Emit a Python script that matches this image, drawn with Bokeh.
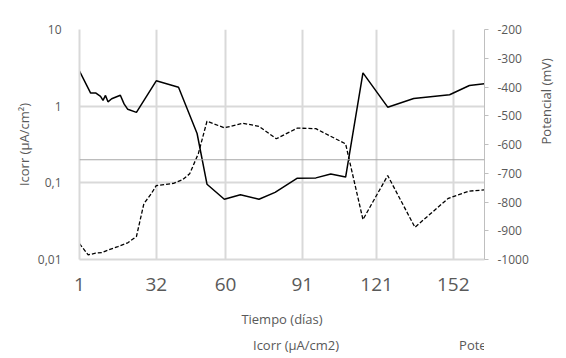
import math
from bokeh.plotting import figure
from bokeh.layouts import column
from bokeh.models import (Range1d, LinearAxis, LinearScale, FixedTicker,
                          CustomJSTickFormatter, Legend, LegendItem, Span,
                          ColumnDataSource)
from bokeh.embed import file_html
from bokeh.resources import INLINE

# Icorr series (solid, left log axis)
days_icorr = [1, 5.5, 7.5, 9.5, 10.5, 11.5, 12.5, 14, 17.5, 19, 20.5, 24, 32, 41, 48.5,
              52.5, 59.5, 66, 73.5, 80, 89, 96.5, 102.5, 108.5, 115.5, 125.5, 136,
              150.5, 158.5, 164.5]
icorr = [2.86, 1.48, 1.49, 1.34, 1.19, 1.38, 1.14, 1.25, 1.39, 1.07, 0.91, 0.83, 2.14,
         1.77, 0.44, 0.096, 0.061, 0.070, 0.061, 0.075, 0.115, 0.116, 0.13, 0.119,
         2.72, 0.97, 1.26, 1.41, 1.86, 1.96]

# Potencial series (dashed, right axis)
days_pot = [1, 4.5, 7.5, 10, 12, 16.5, 20.5, 24, 27, 30, 32, 39, 42.5, 45.5, 49, 52.5,
            59.5, 67, 73.5, 80.5, 89, 96.5, 108.5, 115.5, 125.5, 136.5, 150, 158.5, 164.5]
potencial = [-945, -984, -978, -976, -969, -955, -942, -920, -806, -771, -743, -735,
             -723, -702, -632, -519, -542, -526, -537, -580, -543, -545, -598, -861,
             -708, -888, -787, -762, -758]

x_ticks = [1, 32, 60, 91, 121, 152]
y_ticks = [0.01, 0.1, 1, 10]
pot_ticks = list(range(-1000, -199, 100))
ref_level = 0.2
series_labels = ["Icorr (µA/cm2)", "Potencial (mV)"]

FONT = "Open Sans"
TXT = "#595959"
GRID = "#d9d9d9"

p = figure(width=566, height=333, y_axis_type="log",
           x_range=Range1d(1, 164.6), y_range=Range1d(0.01, 10),
           output_backend="svg", toolbar_location=None,
           min_border_left=79, min_border_right=74, min_border_top=29,
           min_border_bottom=74, outline_line_color=None,
           background_fill_color="white", border_fill_color="white")

p.extra_y_ranges = {"pot": Range1d(-1000, -200)}
p.extra_y_scales = {"pot": LinearScale()}

# grids
p.xgrid.ticker = FixedTicker(ticks=x_ticks)
p.ygrid.ticker = FixedTicker(ticks=y_ticks)
for g in (p.xgrid, p.ygrid):
    g.grid_line_color = GRID
    g.grid_line_width = 2

# x axis
xa = p.xaxis[0]
xa.ticker = FixedTicker(ticks=x_ticks)
xa.axis_label = "Tiempo (días)"
xa.major_tick_line_color = None
xa.minor_tick_line_color = None
xa.axis_line_color = GRID
xa.axis_line_width = 2
xa.major_label_text_font = FONT
xa.major_label_text_font_size = "19px"
xa.major_label_text_color = TXT
xa.major_label_standoff = 12
xa.axis_label_text_font = FONT
xa.axis_label_text_font_size = "13px"
xa.axis_label_text_font_style = "normal"
xa.axis_label_text_color = TXT
xa.axis_label_standoff = 16

# left log axis
ya = p.yaxis[0]
ya.ticker = FixedTicker(ticks=y_ticks)
ya.formatter = CustomJSTickFormatter(code="return tick.toString().replace('.', ',');")
ya.axis_label = "Icorr (µA/cm²)"
ya.major_tick_line_color = None
ya.minor_tick_line_color = None
ya.axis_line_color = GRID
ya.axis_line_width = 2
ya.major_label_text_font = FONT
ya.major_label_text_font_size = "12px"
ya.major_label_text_color = TXT
ya.major_label_standoff = 12
ya.axis_label_text_font = FONT
ya.axis_label_text_font_size = "13px"
ya.axis_label_text_font_style = "normal"
ya.axis_label_text_color = TXT
ya.axis_label_standoff = 2

# right axis
ra = LinearAxis(y_range_name="pot", ticker=FixedTicker(ticks=pot_ticks),
                axis_label="Potencial (mV)")
ra.formatter = CustomJSTickFormatter(code="return tick.toString();")
ra.axis_line_color = "#bfbfbf"
ra.major_tick_line_color = "#bfbfbf"
ra.major_tick_out = 4
ra.major_tick_in = 0
ra.minor_tick_line_color = None
ra.major_label_text_font = FONT
ra.major_label_text_font_size = "12px"
ra.major_label_text_color = TXT
ra.major_label_standoff = 9
ra.axis_label_text_font = FONT
ra.axis_label_text_font_size = "13px"
ra.axis_label_text_font_style = "normal"
ra.axis_label_text_color = TXT
ra.axis_label_standoff = 14
ra.axis_label_orientation = math.pi / 2
p.add_layout(ra, "right")

# reference horizontal line
p.add_layout(Span(location=ref_level, dimension="width", line_color="#a6a6a6",
                  line_width=1))

p.line(days_icorr, icorr, line_color="black", line_width=1.5)
p.line(days_pot, potencial, y_range_name="pot", line_color="black",
       line_width=1.3, line_dash="4 2")

# legend strip below the chart
leg = figure(width=566, height=25, x_range=Range1d(0, 1), y_range=Range1d(0, 1),
             output_backend="svg", toolbar_location=None,
             x_axis_location=None, y_axis_location=None,
             min_border_left=0, min_border_right=0, min_border_top=0,
             min_border_bottom=0, outline_line_color=None,
             background_fill_color="white", border_fill_color="white")
leg.xgrid.visible = False
leg.ygrid.visible = False
s1 = ColumnDataSource(data=dict(x=[], y=[]))
s2 = ColumnDataSource(data=dict(x=[], y=[]))
g1 = leg.line("x", "y", source=s1, line_color="black", line_width=1.5)
g2 = leg.line("x", "y", source=s2, line_color="black", line_width=1.3,
              line_dash="4 2")
legend = Legend(items=[LegendItem(label=series_labels[0], renderers=[g1]),
                       LegendItem(label=series_labels[1], renderers=[g2])],
                orientation="horizontal", location=(100, 4),
                glyph_width=66, glyph_height=8, label_height=14,
                label_standoff=8, spacing=46,
                padding=0, margin=0, border_line_color=None,
                background_fill_alpha=0,
                label_text_font=FONT, label_text_font_size="13px",
                label_text_color=TXT)
leg.add_layout(legend)

page = column(p, leg, spacing=0)
open("out.html", "w").write(file_html(page, INLINE))
